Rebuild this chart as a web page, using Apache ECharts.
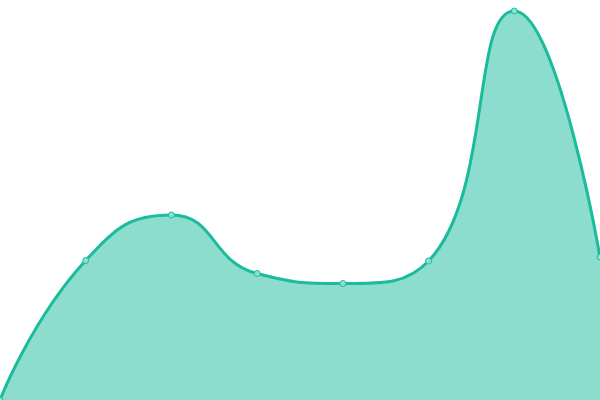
<!DOCTYPE html>
<html><head><meta charset="utf-8">
<script src="https://cdn.jsdelivr.net/npm/echarts@6/dist/echarts.min.js"></script>
<style>html,body{margin:0;padding:0;background:#fff}#c{width:600px;height:400px}</style>
</head><body><div id="c"></div>
<script>
const categories = ['A','B','C','D','E','F','G','H'];
const values = [0, 139.5, 185, 126.5, 116.5, 139, 389, 143];
const chart = echarts.init(document.getElementById('c'));
chart.setOption({
  animation: false,
  grid: {left: 0, right: 0, top: 0, bottom: 0},
  xAxis: {type: 'category', data: categories, boundaryGap: false, show: false},
  yAxis: {type: 'value', min: 0, max: 400, show: false},
  series: [{
    type: 'line',
    data: values,
    smooth: true,
    symbol: 'circle',
    symbolSize: 6,
    lineStyle: {color: '#1abc9c', width: 3},
    itemStyle: {color: '#8de0d0', borderColor: '#1abc9c', borderWidth: 1},
    areaStyle: {color: '#1abc9c', opacity: 0.5}
  }]
});
</script></body></html>
